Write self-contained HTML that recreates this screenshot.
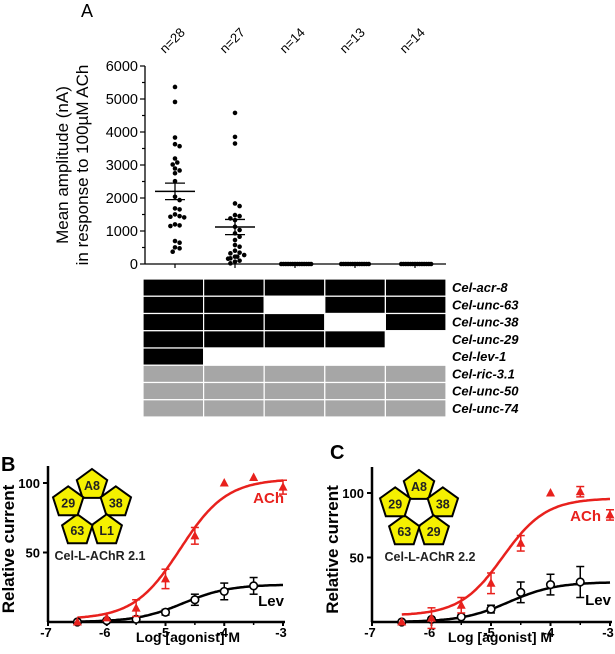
<!DOCTYPE html>
<html><head><meta charset="utf-8">
<style>
html,body{margin:0;padding:0;background:#fff;}
svg{display:block;font-family:"Liberation Sans",Arial,sans-serif;}
</style></head>
<body>
<svg id="fig" width="615" height="654" viewBox="0 0 615 654">
</svg>
<script>
// ---------- Panel A data ----------
const aCategories = ["n=28","n=27","n=14","n=13","n=14"];
const aTicks = [0,1000,2000,3000,4000,5000,6000];
const aCol1 = [5365,4911,3832,3630,3570,3197,3076,3015,2894,2834,2750,2511,2037,1936,1684,1654,1503,1450,1432,1412,1200,1170,1150,696,645,504,474,373];
const aCol2 = [4578,3852,3650,1835,1755,1482,1452,1382,1331,1130,1029,928,827,726,575,524,403,343,323,272,222,222,171,160,101,71,20];
const aCol3 = [0,0,0,0,0,0,0,0,0,0,0,0,0,0];
const aCol4 = [0,0,0,0,0,0,0,0,0,0,0,0,0];
const aCol5 = [0,0,0,0,0,0,0,0,0,0,0,0,0,0];
const aMeans = [2200,1120,0,0,0];
const aSems = [250,230,0,0,0];
const geneNames = ["Cel-acr-8","Cel-unc-63","Cel-unc-38","Cel-unc-29","Cel-lev-1","Cel-ric-3.1","Cel-unc-50","Cel-unc-74"];
// 1 black, 0 white, 2 grey ; rows x columns
const geneMatrix = [
 [1,1,1,1,1],
 [1,1,0,1,1],
 [1,1,1,0,1],
 [1,1,1,1,0],
 [1,0,0,0,0],
 [2,2,2,2,2],
 [2,2,2,2,2],
 [2,2,2,2,2]];

// ---------- Panel B data ----------
const logX = [-6.5,-6,-5.5,-5,-4.5,-4,-3.5,-3];
const bAch = [0,3,10,31,62,100,104,97];
const bAchErr = [0,0,6,7,6,0,0,5];
const bLevX = [-6.5,-6,-5.5,-5,-4.5,-4,-3.5];
const bLev = [0,1,2,7,16,22,26];
const bLevErr = [0,0,0,2,4,6,6];
const bAchFit = [2,103,-4.75,1.1];   // bottom, top, logEC50, hill
const bLevFit = [0,27,-4.7,1.1];
// ---------- Panel C data ----------
const cAch = [0,3,13,30,61,100,101,83];
const cAchErr = [0,8,6,8,6,0,4,4];
const cLev = [0,2,4,10,23,29,31];
const cLevErr = [0,0,0,3,8,8,12];
const cAchFit = [5,96,-4.8,1.2];
const cLevFit = [0,31,-4.7,1.1];
const doseTicks = [-7,-6,-5,-4,-3];
const relTicks = [50,100];

const NS="http://www.w3.org/2000/svg";
const svg=document.getElementById('fig');
function mk(tag,attrs,parent,text){const e=document.createElementNS(NS,tag);for(const k in attrs)e.setAttribute(k,attrs[k]);if(text!==undefined)e.textContent=text;(parent||svg).appendChild(e);return e;}

// ===== Panel A =====
const gA=mk('g',{});


const ax0=145, ax1=446, ay0=264, ay1=66;
const ay=v=>ay0-(v/6000)*(ay0-ay1);
const colX=i=>175+i*60;
let t=mk('text',{x:87,y:17,'font-size':18,'text-anchor':'middle'},gA,'A');


mk('line',{x1:ax0,y1:ay1,x2:ax0,y2:ay0,stroke:'#000','stroke-width':1.3},gA);
mk('line',{x1:ax0,y1:ay0,x2:ax1,y2:ay0,stroke:'#000','stroke-width':1.3},gA);
for(let v=0;v<=6000;v+=500){
  mk('line',{x1:ax0-(v%1000===0?5:3),y1:ay(v),x2:ax0,y2:ay(v),stroke:'#000','stroke-width':1.2},gA);
}
aTicks.forEach(v=>{
  const tl=mk('text',{x:ax0-7,y:ay(v)+5,'font-size':14.5,'text-anchor':'end'},gA,String(v));
  
  
});
const yt=mk('text',{transform:'translate(68,165) rotate(-90)','font-size':17,'text-anchor':'middle'},gA);


mk('tspan',{x:0,dy:0},yt,'Mean amplitude (nA)');
mk('tspan',{x:0,dy:20},yt,'in response to 100\u00b5M ACh');
const cols=[aCol1,aCol2,aCol3,aCol4,aCol5];
aCategories.forEach((c,i)=>{
  const cx=colX(i);
  mk('line',{x1:cx,y1:ay0,x2:cx,y2:ay0+4,stroke:'#000','stroke-width':1.2},gA);
  const nl=mk('text',{transform:`translate(${cx-10},${54}) rotate(-45)`,'font-size':13,'text-anchor':'start'},gA,c);
  
  
  const placed=[];
  const vals=cols[i];
  vals.forEach(v=>{
    const py=ay(v);
    let off=0;
    for(let k=0;k<80;k++){
      const cand=(k===0)?0:(k%2?1:-1)*Math.ceil(k/2)*2.3;
      if(placed.every(p=>{const dy=Math.abs(p[1]-py);return dy<0.5?Math.abs(p[0]-cand)>=2.2:Math.hypot(p[0]-cand,p[1]-py)>=4.6;})){off=cand;break;}
    }
    placed.push([off,py]);
    const d=mk('circle',{cx:cx+off,cy:py,r:2.3,fill:'#000'},gA);
    
    
  });
  if(aMeans[i]>0){
    const m=mk('line',{x1:cx-20,y1:ay(aMeans[i]),x2:cx+20,y2:ay(aMeans[i]),stroke:'#000','stroke-width':1.5},gA);
    
    
    mk('line',{x1:cx,y1:ay(aMeans[i]-aSems[i]),x2:cx,y2:ay(aMeans[i]+aSems[i]),stroke:'#000','stroke-width':1.3},gA);
    [aMeans[i]-aSems[i],aMeans[i]+aSems[i]].forEach(v=>mk('line',{x1:cx-10,y1:ay(v),x2:cx+10,y2:ay(v),stroke:'#000','stroke-width':1.3},gA));
  }
});
// table
const tb=mk('g',{});


const tx0=143, tw=(446-143)/5, ty0=279, th=17.25;
geneMatrix.forEach((row,r)=>{
  row.forEach((v,c)=>{
    const fill=v===1?'#000':(v===2?'#a6a6a6':'#fff');
    const cell=mk('rect',{x:tx0+c*tw,y:ty0+r*th,width:tw,height:th,fill:fill,stroke:'#fff','stroke-width':1.2},tb);
    
    
  });
  const gl=mk('text',{x:452,y:ty0+r*th+13,'font-size':13,'font-weight':'bold','font-style':'italic'},tb,geneNames[r]);
  
  
});

// ===== Dose-response panels =====
function pentagon(g,cx,cy,ang,label,r){
  const pts=[];
  for(let k=0;k<5;k++){const a=ang+k*2*Math.PI/5;pts.push((cx+r*Math.cos(a)).toFixed(1)+','+(cy+r*Math.sin(a)).toFixed(1));}
  const p=mk('polygon',{points:pts.join(' '),fill:'#f5f000',stroke:'#000','stroke-width':2},g);
  
  
  mk('text',{x:cx,y:cy+5,'font-size':12.5,'font-weight':'bold','text-anchor':'middle',fill:'#222'},g,label);
}
function panel(o){
  const g=mk('g',{});
  
  
  const x=v=>o.x0+(v+7)/4*(o.x1-o.x0);
  const y=v=>o.y0-v/100*(o.y0-o.y100);
  const L=mk('text',{x:o.lx,y:o.ly,'font-size':20,'font-weight':'bold'},g,o.letter);
  
  
  mk('line',{x1:o.x0,y1:o.ytop,x2:o.x0,y2:o.y0,stroke:'#000','stroke-width':2.5},g);
  mk('line',{x1:o.x0,y1:o.y0,x2:o.x1+2,y2:o.y0,stroke:'#000','stroke-width':2.5},g);
  doseTicks.forEach(v=>{
    mk('line',{x1:x(v),y1:o.y0,x2:x(v),y2:o.y0+4,stroke:'#000','stroke-width':2},g);
    const tl=mk('text',{x:x(v)-2,y:o.y0+15,'font-size':13,'font-weight':'bold','text-anchor':'middle'},g,String(v));
    
    
  });
  for(let v=-6.5;v<=-3.4;v+=1) mk('line',{x1:x(v),y1:o.y0,x2:x(v),y2:o.y0+3,stroke:'#000','stroke-width':1.5},g);
  relTicks.forEach(v=>{
    mk('line',{x1:o.x0-5,y1:y(v),x2:o.x0,y2:y(v),stroke:'#000','stroke-width':2},g);
    const tl=mk('text',{x:o.x0-8,y:y(v)+5,'font-size':13,'font-weight':'bold','text-anchor':'end'},g,String(v));
    
    
  });
  const xt=mk('text',{x:o.titleX,y:o.y0+20,'font-size':14,'font-weight':'bold','text-anchor':'middle'},g,'Log [agonist] M');
  
  
  const ytt=mk('text',{transform:`translate(${o.x0-34},${(o.ytop+o.y0)/2+5}) rotate(-90)`,'font-size':17,'font-weight':'bold','text-anchor':'middle'},g,'Relative current');
  
  
  function curve(f,color){
    let d='';
    for(let v=-6.5;v<=-3.0001+0.025;v+=0.025){
      const val=f[0]+(f[1]-f[0])/(1+Math.pow(10,(f[2]-v)*f[3]));
      d+=(d?'L':'M')+x(v).toFixed(1)+','+y(val).toFixed(1);
    }
    return mk('path',{d:d,fill:'none',stroke:color,'stroke-width':2.5},g);
  }
  const cl=curve(o.levFit,'#000');
  
  
  const ca=curve(o.achFit,'#e8211d');
  
  
  function err(px,v,e,color){
    if(e<=0)return;
    mk('line',{x1:px,y1:y(v-e),x2:px,y2:y(v+e),stroke:color,'stroke-width':1.5},g);
    [v-e,v+e].forEach(w=>mk('line',{x1:px-4,y1:y(w),x2:px+4,y2:y(w),stroke:color,'stroke-width':1.5},g));
  }
  bLevX.forEach((v,i)=>{
    err(x(v),o.lev[i],o.levErr[i],'#000');
    const c=mk('circle',{cx:x(v),cy:y(o.lev[i]),r:3.8,fill:'#fff',stroke:'#000','stroke-width':1.6},g);
    
    
  });
  logX.forEach((v,i)=>{
    err(x(v),o.ach[i],o.achErr[i],'#e8211d');
    const px=x(v),py=y(o.ach[i]);
    const tr=mk('polygon',{points:`${px},${py-5} ${px-4.5},${py+3.5} ${px+4.5},${py+3.5}`,fill:'#e8211d'},g);
    
    
  });
  const al=mk('text',{x:o.achLx,y:o.achLy,'font-size':15,'font-weight':'bold',fill:'#e8211d','text-anchor':'end'},g,'ACh');
  
  
  const ll=mk('text',{x:o.levLx,y:o.levLy,'font-size':15,'font-weight':'bold','text-anchor':'end'},g,'Lev');
  
  
  const rg=mk('g',{},g);
  
  
  const rc=o.ring;
  o.subs.forEach((s,k)=>{
    const a=-Math.PI/2+k*2*Math.PI/5;
    const R=25;
    pentagon(rg,rc[0]+R*Math.cos(a),rc[1]+R*Math.sin(a),a,s,16);
  });
  const rl=mk('text',{x:o.nameX,y:rc[1]+50,'font-size':12.5,'font-weight':'bold','text-anchor':'middle',fill:'#222'},rg,o.rname);
  
  
}
panel({name:'panel-b-dose-response',letter:'B',lx:1,ly:471,x0:48,x1:283,y0:622,y100:483,ytop:466,titleX:188,nameX:100,
  ach:bAch,achErr:bAchErr,lev:bLev,levErr:bLevErr,achFit:bAchFit,levFit:bLevFit,
  achLx:284,achLy:503,levLx:284,levLy:606,ring:[92,510],subs:['A8','38','L1','63','29'],rname:'Cel-L-AChR 2.1'});
panel({name:'panel-c-dose-response',letter:'C',lx:330,ly:459,x0:372,x1:610,y0:622,y100:493,ytop:467,titleX:500,nameX:430,
  ach:cAch,achErr:cAchErr,lev:cLev,levErr:cLevErr,achFit:cAchFit,levFit:cLevFit,
  achLx:601,achLy:521,levLx:611,levLy:605,ring:[419,511],subs:['A8','38','29','63','29'],rname:'Cel-L-AChR 2.2'});
</script>
</body></html>
